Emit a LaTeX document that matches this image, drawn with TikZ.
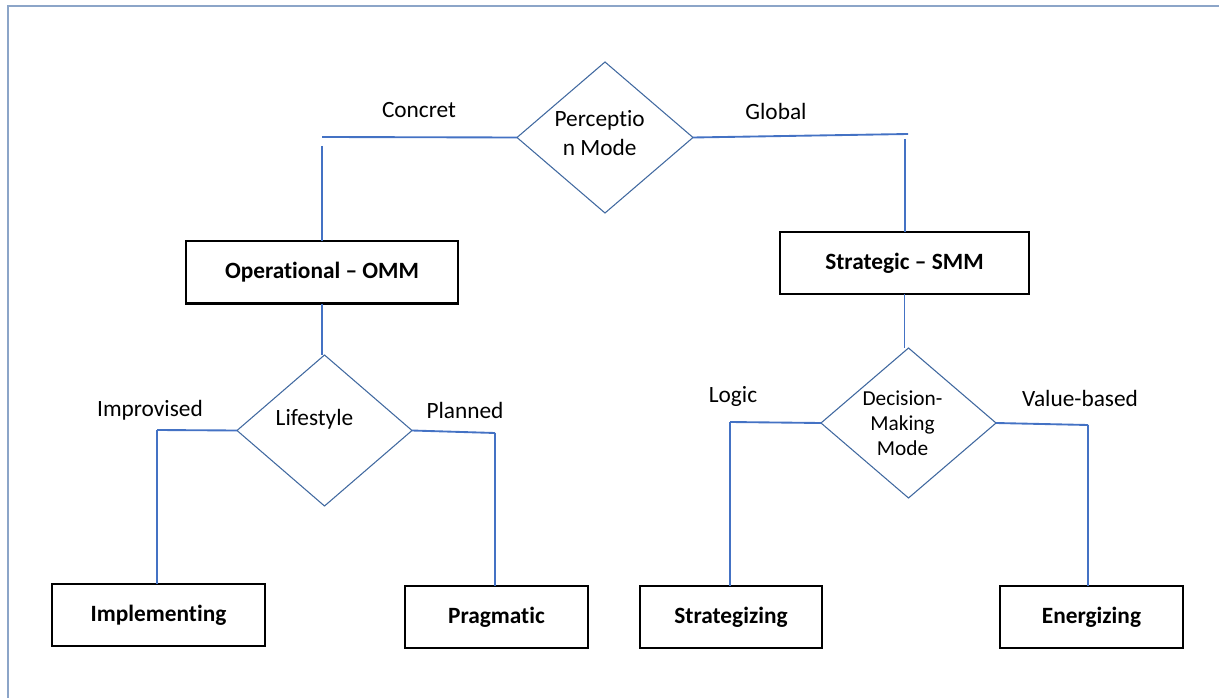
\documentclass[tikz,border=0pt]{standalone}
\usepackage{fontspec}
\setmainfont{Carlito}[Ligatures=NoCommon]
\usetikzlibrary{positioning, calc, shapes.geometric}
\definecolor{myblue}{RGB}{68,114,196}
\definecolor{mydark}{RGB}{65,105,160}
\definecolor{myframe}{RGB}{140,165,200}
\tikzset{ % node styles
  my nodes/.style={inner sep=0,outer sep=0,font=\fontsize{17.5}{21}\selectfont},
  mode/.style={my nodes,draw=black,line width=1.5pt,font=\fontsize{17.5}{21}\selectfont\bfseries,
    minimum height=46.5pt,minimum width=#1},
  choice/.style={my nodes,diamond,draw=mydark,line width=0.8pt,align=center},
  link/.style={myblue,line width=1.4pt},
  my text/.style={my nodes,text=black,align=center}
}

\begin{document}
\begin{tikzpicture}[x=0.75pt,y=-0.75pt]
\useasboundingbox (0,0) rectangle (1219,698);
\draw[myframe,line width=1.1pt] (8,698) -- (8,6) -- (1219,6);

% decisions
\node[choice,minimum width=132pt,minimum height=113.25pt,
  label={[my text,xshift=-4pt,yshift=3.5pt]center:{Perceptio\\[1pt]n Mode}}] (perc) at (605,137.5) {};
\node[choice,minimum width=131.25pt,minimum height=113.25pt,
  label={[my text,xshift=-7.5pt,yshift=8.6pt]center:Lifestyle}] (life) at (324.5,430.5) {};
\node[choice,minimum width=131.25pt,minimum height=112.5pt,
  label={[my text,xshift=-4.5pt,font=\fontsize{16}{18.75}\selectfont]center:{Decision-\\Making\\Mode}}]
  (dec) at (908.5,423) {};

% mental models and profiles
\node[mode=204pt]    (omm)   at (322,272.5)  {Operational -- OMM};
\node[mode=186.75pt] (smm)   at (904.5,263)  {Strategic -- SMM};
\node[mode=159.75pt] (impl)  at (158.5,615)  {Implementing};
\node[mode=137.25pt] (prag)  at (496.5,617)  {Pragmatic};
\node[mode=136.5pt]  (strat) at (731,617)    {Strategizing};
\node[mode=137.25pt] (ener)  at (1091.5,617) {Energizing};

% branch labels
\node[my text] (concret) at (419,110) {Concret};
\node[my text] (global)  at (776,111) {Global};
\node[my text] (improv)  at (150,410) {Improvised};
\node[my text] (planned) at (465,410) {Planned};
\node[my text] (logic)   at (733,396) {Logic};
\node[my text] (value)   at (1080,398) {Value-based};

% connections
\coordinate (c1) at (322,137);
\coordinate (c2) at (322,146);
\coordinate (g1) at (908,134);
\coordinate (g2) at (905,139);
\coordinate (i1) at (157,430);
\coordinate (p1) at (495,433);
\coordinate (l1) at (730,422);
\coordinate (v1) at (1088,425);
\draw[link] (perc.west) -- (c1);
\draw[link] (c2) -- (c2 |- omm.north);
\draw[link] (perc.east) -- (g1);
\draw[link] (g2) -- (g2 |- smm.north);
\draw[link] (omm.south) -- (omm.south |- life.north);
\draw[link] (smm.south) -- (smm.south |- dec.north);
\foreach\d/\c/\b in {life.west/i1/impl,life.east/p1/prag,dec.west/l1/strat,dec.east/v1/ener}
{
  \draw[link] (\d) -- (\c);
  \draw[link] (\c) -- (\c |- \b.north);
}
\end{tikzpicture}
\end{document}
